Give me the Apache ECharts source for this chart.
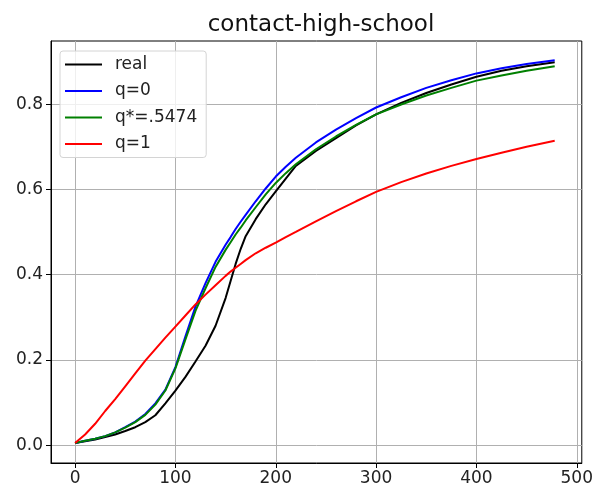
<!DOCTYPE html>
<html>
<head>
<meta charset="utf-8">
<script src="https://cdn.jsdelivr.net/npm/echarts@6/dist/echarts.min.js"></script>
<style>html,body{margin:0;padding:0;background:#fff;}#c{width:596px;height:493px;}</style>
</head>
<body>
<div id="c"></div>
<script>
const title = 'contact-high-school';
const xs = [0,10,20,30,40,50,60,70,80,90,100,110,120,130,140,150,155,160,165,170,180,190,200,210,220,240,260,280,300,325,350,375,400,425,450,478];
const real = [0.005,0.009,0.013,0.019,0.025,0.033,0.042,0.054,0.07,0.098,0.128,0.16,0.196,0.233,0.28,0.345,0.385,0.425,0.46,0.49,0.53,0.565,0.595,0.625,0.655,0.69,0.72,0.75,0.776,0.803,0.826,0.846,0.864,0.878,0.889,0.898];
const q0 = [0.005,0.01,0.015,0.021,0.03,0.042,0.055,0.073,0.098,0.13,0.183,0.255,0.325,0.38,0.43,0.47,0.488,0.507,0.524,0.54,0.572,0.602,0.63,0.653,0.674,0.71,0.74,0.767,0.792,0.816,0.838,0.856,0.872,0.884,0.894,0.903];
const qStar = [0.005,0.01,0.015,0.021,0.03,0.041,0.054,0.071,0.095,0.128,0.18,0.248,0.315,0.368,0.418,0.458,0.476,0.494,0.51,0.527,0.558,0.588,0.615,0.638,0.659,0.694,0.724,0.751,0.776,0.799,0.82,0.838,0.855,0.867,0.878,0.889];
const q1 = [0.005,0.025,0.05,0.08,0.108,0.138,0.168,0.198,0.225,0.252,0.278,0.304,0.33,0.353,0.375,0.397,0.407,0.416,0.425,0.434,0.45,0.463,0.475,0.488,0.5,0.525,0.549,0.572,0.594,0.617,0.637,0.655,0.671,0.686,0.7,0.714];
const seriesNames = ['real','q=0','q*=.5474','q=1'];
const seriesColors = ['#000000','#0000ff','#008000','#ff0000'];
const xTicks = [0,100,200,300,400,500];
const yTicks = [0,0.2,0.4,0.6,0.8];

const allData = [real,q0,qStar,q1];
const font = 'DejaVu Sans';
const chart = echarts.init(document.getElementById('c'), null, {renderer:'canvas'});
chart.setOption({
  animation:false,
  backgroundColor:'#fff',
  title:{text:title,left:316,textAlign:'center',top:9,textStyle:{fontFamily:font,fontSize:23,fontWeight:'normal',color:'#111'}},
  grid:{left:51,right:14,top:41,bottom:30,show:true,borderColor:'#000',borderWidth:1,backgroundColor:'transparent'},
  legend:{
    orient:'vertical',left:60,top:51,
    data:seriesNames.map(n=>({name:n,icon:'rect'})),
    itemWidth:37,itemHeight:2,itemGap:7.5,
    padding:[4,9,4,5],
    backgroundColor:'rgba(255,255,255,0.8)',borderColor:'#d4d4d4',borderWidth:1,borderRadius:3,
    textStyle:{fontFamily:font,fontSize:17,color:'#222',lineHeight:19,padding:[0,0,0,8]}
  },
  xAxis:{
    type:'value',min:-24,max:505,
    axisLine:{show:true,onZero:false,lineStyle:{color:'#000',width:1}},
    axisTick:{show:true,customValues:xTicks,length:5,lineStyle:{color:'#000'}},
    axisLabel:{customValues:xTicks,fontFamily:font,fontSize:17,color:'#222',margin:7},
    splitLine:{show:true,lineStyle:{color:'#b0b0b0',width:1}}
  },
  yAxis:{
    type:'value',min:-0.042,max:0.948,
    axisLine:{show:true,onZero:false,lineStyle:{color:'#000',width:1}},
    axisTick:{show:true,customValues:yTicks,length:5,lineStyle:{color:'#000'}},
    axisLabel:{customValues:yTicks,fontFamily:font,fontSize:17,color:'#222',margin:8,formatter:v=>v.toFixed(1)},
    splitLine:{show:true,lineStyle:{color:'#b0b0b0',width:1}}
  },
  series:seriesNames.map((n,i)=>({
    name:n,type:'line',showSymbol:false,symbol:'none',smooth:false,
    lineStyle:{color:seriesColors[i],width:2},itemStyle:{color:seriesColors[i]},
    data:xs.map((x,j)=>[x,allData[i][j]])
  }))
});
</script>
</body>
</html>
